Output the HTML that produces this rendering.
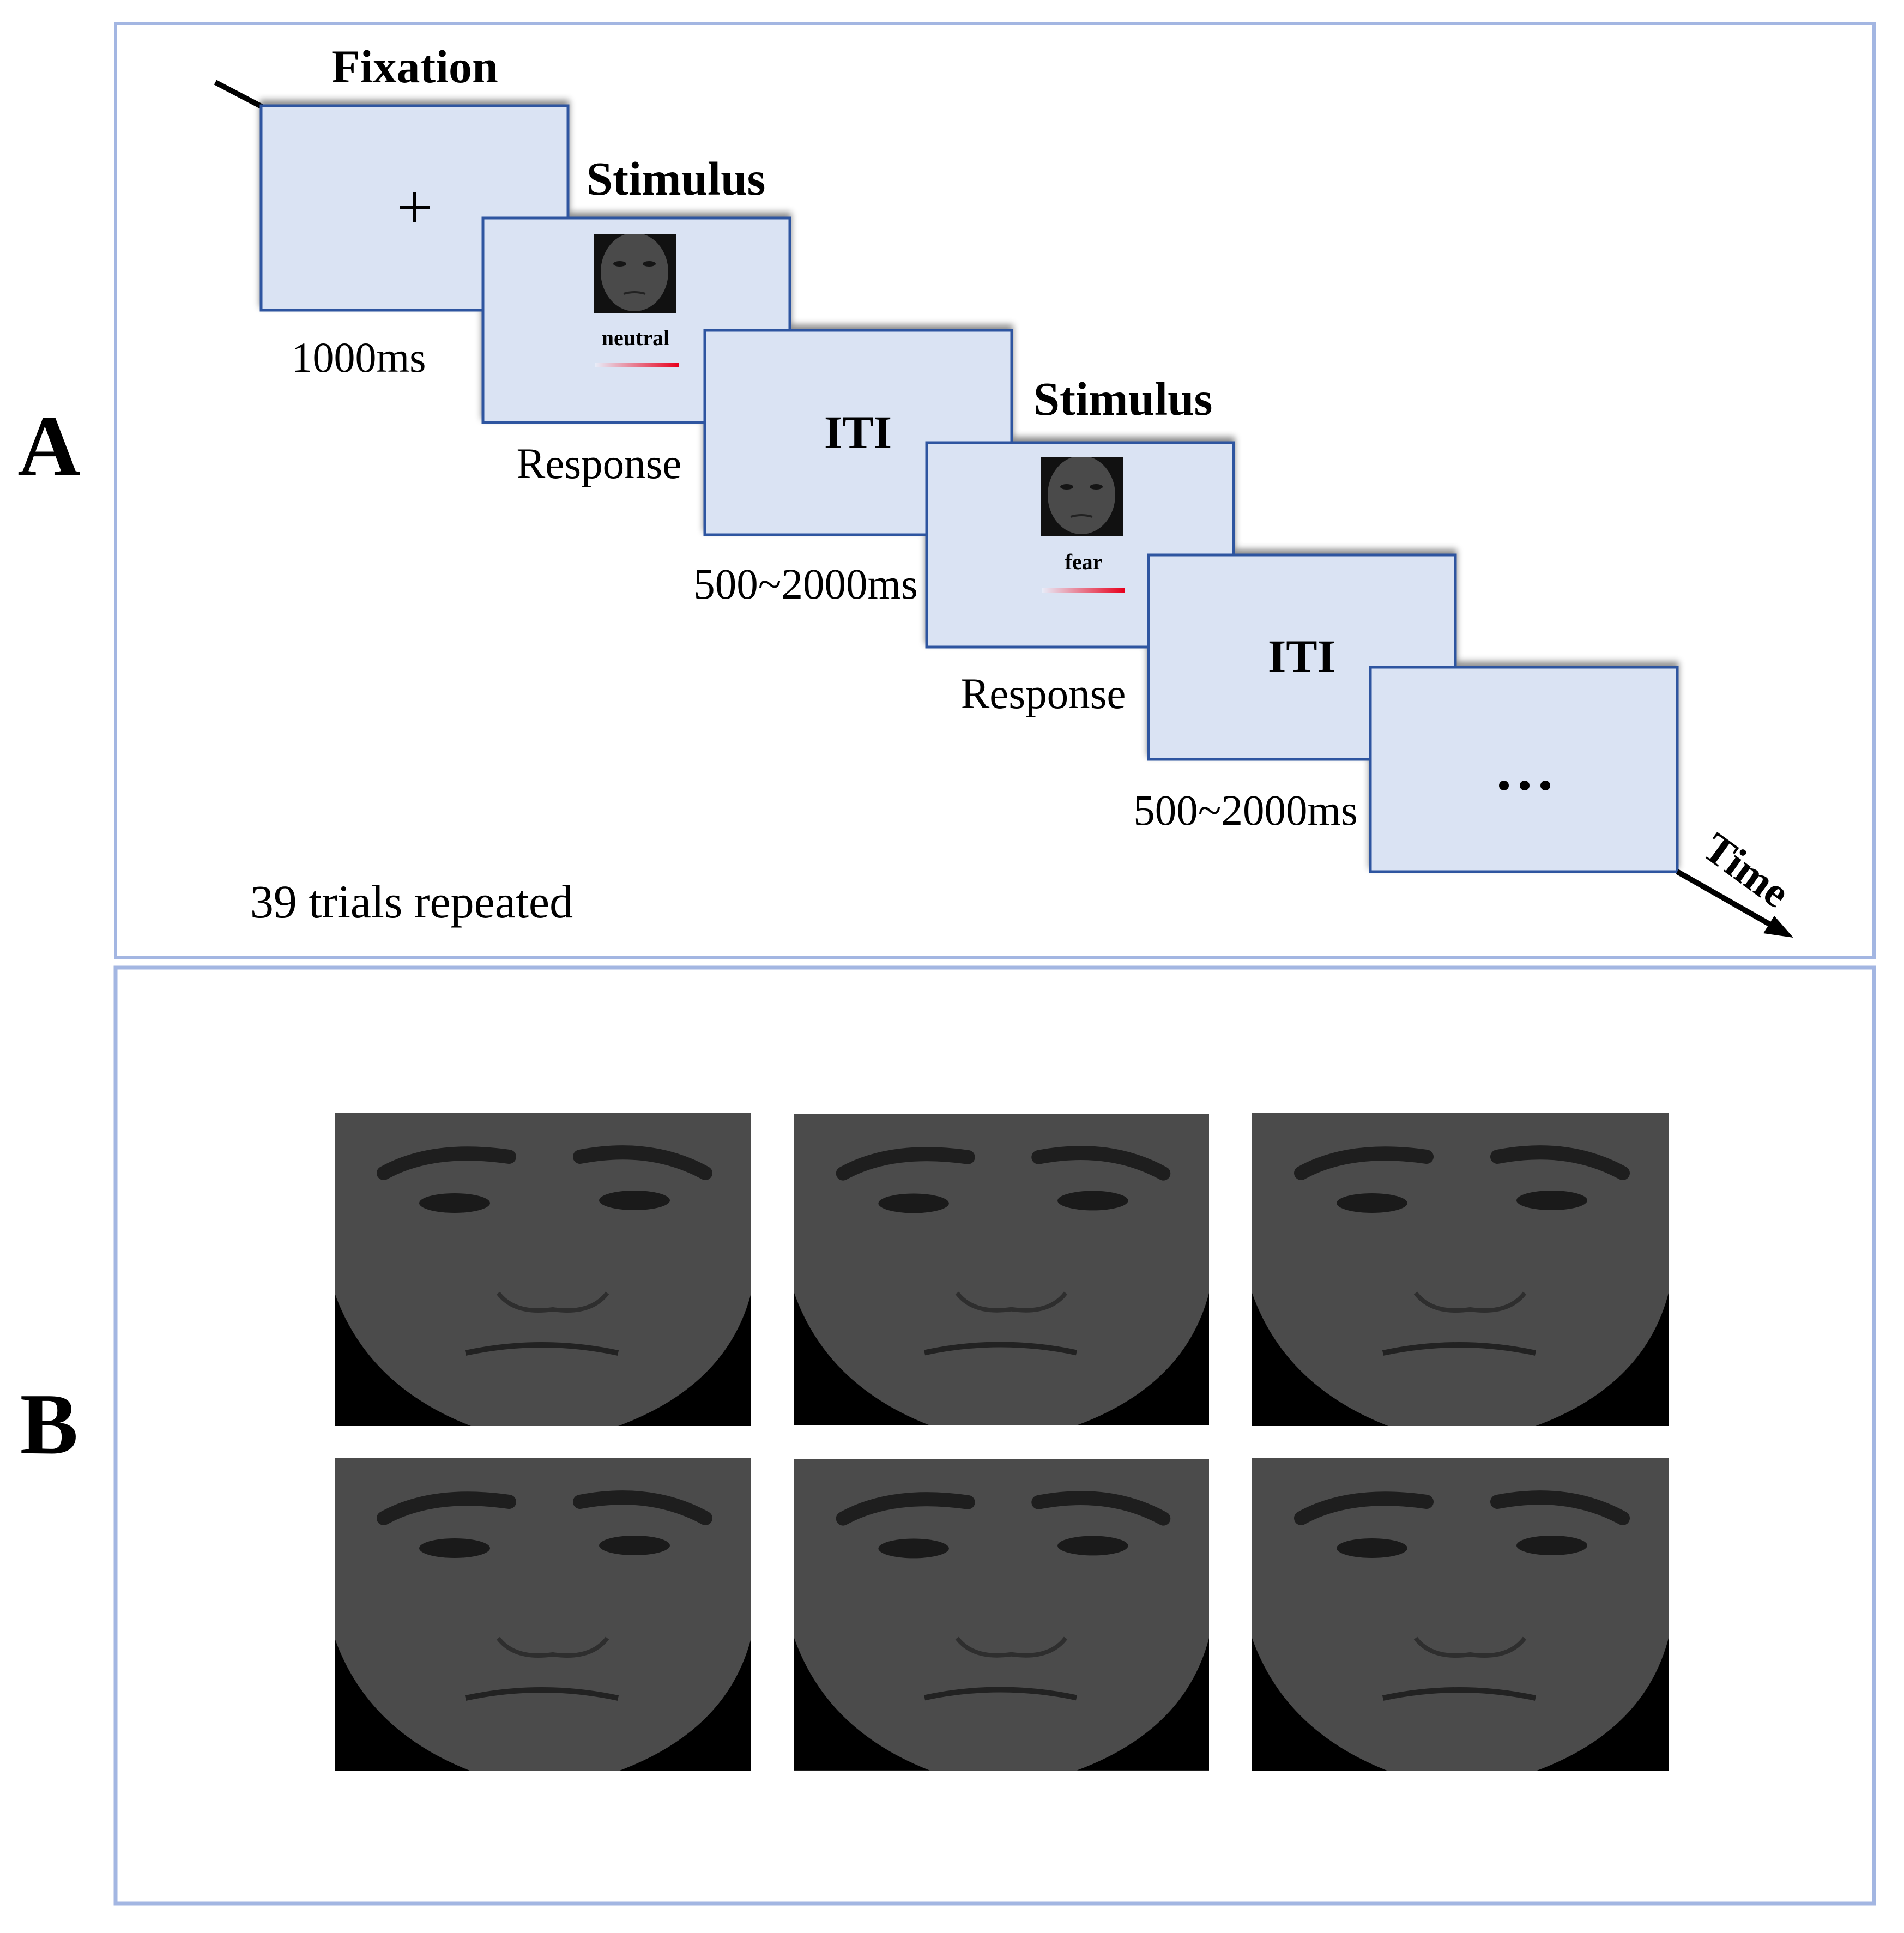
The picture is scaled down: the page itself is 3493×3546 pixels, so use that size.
<!DOCTYPE html>
<html><head><meta charset="utf-8"><style>html,body{margin:0;padding:0;background:#fff}svg{display:block}</style></head><body>
<svg width="3493" height="3546" viewBox="0 0 3493 3546" xmlns="http://www.w3.org/2000/svg" font-family="'Liberation Serif', serif">
<defs>
<linearGradient id="bar" x1="0" x2="1"><stop offset="0" stop-color="#e8eefa"/><stop offset="1" stop-color="#e8001c"/></linearGradient>
<filter id="sh" x="-10%" y="-10%" width="120%" height="120%"><feDropShadow dx="0" dy="-8" stdDeviation="6" flood-color="#000" flood-opacity="0.45"/></filter>
<symbol id="face" viewBox="0 0 764 574">
<rect width="764" height="574" fill="#000"/>
<path d="M0,0 H764 V330 Q720,500 520,574 H250 Q60,500 0,330 Z" fill="#4b4b4b"/>
<path d="M90,110 Q180,60 320,80" stroke="#1e1e1e" stroke-width="26" fill="none" stroke-linecap="round"/>
<path d="M450,80 Q580,55 680,110" stroke="#1e1e1e" stroke-width="26" fill="none" stroke-linecap="round"/>
<ellipse cx="220" cy="165" rx="65" ry="18" fill="#1a1a1a"/>
<ellipse cx="550" cy="160" rx="65" ry="18" fill="#1a1a1a"/>
<path d="M300,330 Q330,370 400,360 Q470,370 500,330" stroke="#2e2e2e" stroke-width="8" fill="none"/>
<path d="M240,440 Q380,410 520,440" stroke="#222" stroke-width="10" fill="none"/>
</symbol>
<symbol id="sface" viewBox="0 0 151 145">
<rect width="151" height="145" fill="#111"/>
<ellipse cx="75" cy="70" rx="62" ry="72" fill="#4a4a4a"/>
<ellipse cx="48" cy="55" rx="12" ry="5" fill="#151515"/>
<ellipse cx="102" cy="55" rx="12" ry="5" fill="#151515"/>
<path d="M55,110 Q75,104 95,110" stroke="#222" stroke-width="4" fill="none"/>
</symbol>
</defs>
<rect x="212" y="43" width="3226" height="1713" fill="none" stroke="#a3b6e2" stroke-width="6"/>
<rect x="212" y="1775" width="3226" height="1717" fill="none" stroke="#a3b6e2" stroke-width="7"/>
<text x="90" y="872" font-size="160" font-weight="bold" text-anchor="middle">A</text>
<text x="90" y="2666" font-size="160" font-weight="bold" text-anchor="middle">B</text>
<line x1="395" y1="151" x2="481" y2="196" stroke="#000" stroke-width="10"/>
<g stroke="#2f55a0" stroke-width="5" fill="#dae3f3" filter="url(#sh)">
<rect x="479" y="194" width="563" height="375"/>
<rect x="886" y="400" width="563" height="375"/>
<rect x="1293" y="606" width="563" height="375"/>
<rect x="1700" y="812" width="563" height="375"/>
<rect x="2107" y="1018" width="563" height="375"/>
<rect x="2514" y="1224" width="563" height="375"/>
</g>
<text x="761" y="151" font-size="86" font-weight="bold" text-anchor="middle">Fixation</text>
<text x="761" y="420" font-size="120" text-anchor="middle">+</text>
<text x="1240" y="357" font-size="87" font-weight="bold" text-anchor="middle">Stimulus</text>
<use href="#sface" x="1089" y="429" width="151" height="145"/>
<text x="1166" y="633" font-size="40" font-weight="bold" text-anchor="middle">neutral</text>
<rect x="1091" y="665" width="154" height="9" fill="url(#bar)"/>
<text x="658" y="682" font-size="78" text-anchor="middle">1000ms</text>
<text x="1099" y="877" font-size="79" text-anchor="middle">Response</text>
<text x="1574" y="822" font-size="86" font-weight="bold" text-anchor="middle">ITI</text>
<text x="1478" y="1098" font-size="79" text-anchor="middle">500~2000ms</text>
<text x="2060" y="761" font-size="87" font-weight="bold" text-anchor="middle">Stimulus</text>
<use href="#sface" x="1909" y="838" width="151" height="145"/>
<text x="1988" y="1044" font-size="40" font-weight="bold" text-anchor="middle">fear</text>
<rect x="1911" y="1078" width="152" height="9" fill="url(#bar)"/>
<text x="1914" y="1299" font-size="79" text-anchor="middle">Response</text>
<text x="2388" y="1233" font-size="86" font-weight="bold" text-anchor="middle">ITI</text>
<text x="2285" y="1513" font-size="79" text-anchor="middle">500~2000ms</text>
<g fill="#000"><circle cx="2759" cy="1441" r="9"/><circle cx="2797" cy="1441" r="9"/><circle cx="2835" cy="1441" r="9"/></g>
<text x="755" y="1683" font-size="86" text-anchor="middle">39 trials repeated</text>
<line x1="3077" y1="1599" x2="3260" y2="1703" stroke="#000" stroke-width="10"/>
<polygon points="3290,1720 3235,1712 3255,1680" fill="#000"/>
<text x="3197" y="1620" font-size="78" font-weight="bold" text-anchor="middle" transform="rotate(36 3197 1606)">Time</text>
<use href="#face" x="614" y="2042" width="764" height="574"/>
<use href="#face" x="1457" y="2042" width="761" height="574"/>
<use href="#face" x="2297" y="2042" width="764" height="574"/>
<use href="#face" x="614" y="2675" width="764" height="574"/>
<use href="#face" x="1457" y="2675" width="761" height="574"/>
<use href="#face" x="2297" y="2675" width="764" height="574"/>
</svg>
</body></html>
